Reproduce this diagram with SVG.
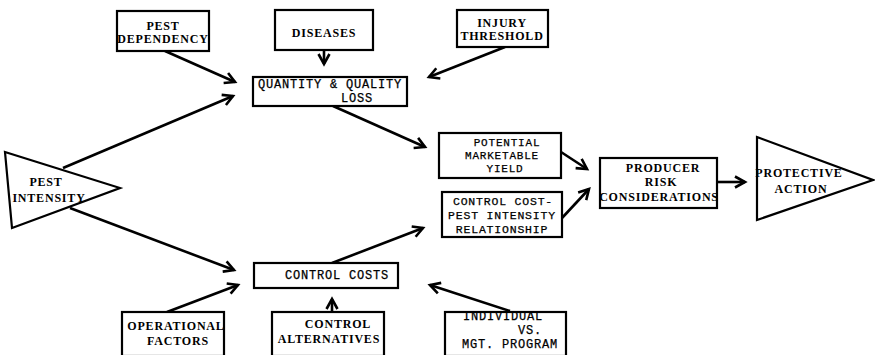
<svg xmlns="http://www.w3.org/2000/svg" width="875" height="355" viewBox="0 0 875 355">
<defs>
<marker id="ah" markerUnits="userSpaceOnUse" markerWidth="16" markerHeight="16" refX="11" refY="6" orient="auto" viewBox="0 0 16 12">
<path d="M1,0.5 L11,6 L1,11.5" fill="none" stroke="#000" stroke-width="2.6" stroke-linejoin="miter"/>
</marker>
</defs>
<style>
.n rect, .n polygon { fill: #fff; stroke: #000; stroke-width: 2.2; }
text { font-family: "Liberation Mono", "Courier New", monospace; font-size: 12px; fill: #000; stroke: #000; stroke-width: 0.25; text-anchor: middle; letter-spacing: 0.8px; }
.b { font-weight: bold; font-family: "Liberation Serif", "Times New Roman", serif; font-size: 12px; letter-spacing: 0.8px; stroke: none; }
#connectors line { stroke: #000; stroke-width: 2.6; marker-end: url(#ah); }
</style>
<g id="connectors">
<line x1="165" y1="51" x2="235" y2="82"/>
<line x1="324" y1="50" x2="324" y2="64"/>
<line x1="505" y1="47" x2="429" y2="77"/>
<line x1="63" y1="168" x2="233" y2="96"/>
<line x1="333" y1="106" x2="425" y2="147"/>
<line x1="70" y1="208" x2="234" y2="270"/>
<line x1="167" y1="312" x2="238" y2="285"/>
<line x1="332" y1="311" x2="332" y2="299"/>
<line x1="510" y1="311" x2="430" y2="285"/>
<line x1="332" y1="263" x2="423" y2="228"/>
<line x1="561" y1="152" x2="587" y2="169"/>
<line x1="562" y1="218" x2="589" y2="189"/>
<line x1="717" y1="182" x2="745" y2="182"/>
</g>
<g id="pest-dependency" class="n">
<rect x="117" y="11" width="92" height="40"/>
<text class="b" x="163" y="30">PEST</text>
<text class="b" x="163" y="43">DEPENDENCY</text>
</g>
<g id="diseases" class="n">
<rect x="275" y="10" width="98" height="40"/>
<text class="b" x="324" y="37">DISEASES</text>
</g>
<g id="injury-threshold" class="n">
<rect x="457" y="10" width="91" height="37"/>
<text class="b" x="502" y="27">INJURY</text>
<text class="b" x="502" y="40">THRESHOLD</text>
</g>
<g id="quantity-quality-loss" class="n">
<rect x="253" y="77" width="154" height="29"/>
<text x="330" y="88">QUANTITY &amp; QUALITY</text>
<text x="357" y="102">LOSS</text>
</g>
<g id="pest-intensity" class="n">
<polygon points="5,152 120,188 12,228"/>
<text class="b" x="46" y="186">PEST</text>
<text class="b" x="49" y="202">INTENSITY</text>
</g>
<g id="potential-marketable-yield" class="n">
<rect x="439" y="133" width="122" height="45"/>
<text x="507" y="146" style="font-size:11px">POTENTIAL</text>
<text x="502" y="159" style="font-size:11px">MARKETABLE</text>
<text x="505" y="172" style="font-size:11px">YIELD</text>
</g>
<g id="control-cost-pest-intensity" class="n">
<rect x="442" y="192" width="120" height="45"/>
<text x="503" y="205" style="font-size:11.5px">CONTROL COST-</text>
<text x="502" y="219" style="font-size:11.5px">PEST INTENSITY</text>
<text x="502" y="233" style="font-size:11.5px">RELATIONSHIP</text>
</g>
<g id="producer-risk" class="n">
<rect x="600" y="158" width="117" height="50"/>
<text class="b" x="663" y="172">PRODUCER</text>
<text class="b" x="661" y="186">RISK</text>
<text class="b" x="659" y="201">CONSIDERATIONS</text>
</g>
<g id="protective-action" class="n">
<polygon points="757,137 873,180 757,220"/>
<text class="b" x="799" y="177">PROTECTIVE</text>
<text class="b" x="801" y="193">ACTION</text>
</g>
<g id="control-costs" class="n">
<rect x="254" y="263" width="144" height="25"/>
<text x="337" y="279">CONTROL COSTS</text>
</g>
<g id="operational-factors" class="n">
<rect x="122" y="312" width="102" height="44"/>
<text class="b" x="176" y="330">OPERATIONAL</text>
<text class="b" x="178" y="345">FACTORS</text>
</g>
<g id="control-alternatives" class="n">
<rect x="272" y="312" width="112" height="44"/>
<text class="b" x="338" y="328">CONTROL</text>
<text class="b" x="329" y="343">ALTERNATIVES</text>
</g>
<g id="individual-vs-program" class="n">
<rect x="445" y="312" width="121" height="44"/>
<text x="503" y="320">INDIVIDUAL</text>
<text x="530" y="334">VS.</text>
<text x="510" y="348">MGT. PROGRAM</text>
</g>
</svg>
